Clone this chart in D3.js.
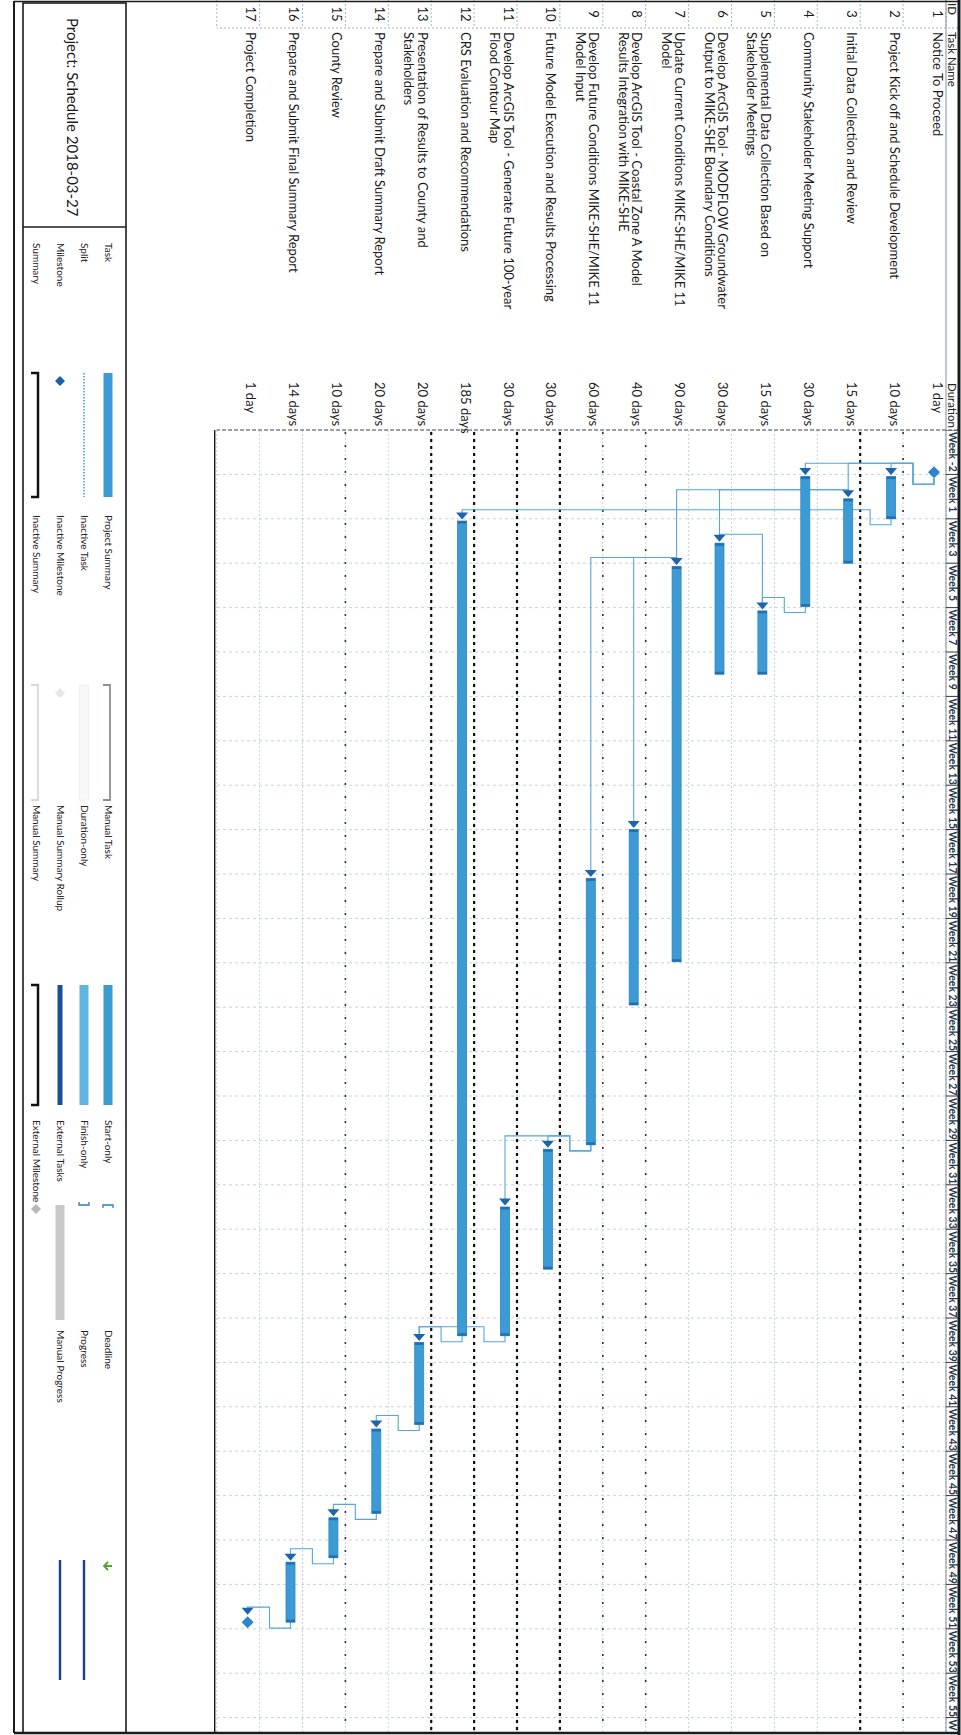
<!DOCTYPE html>
<html>
<head>
<meta charset="utf-8">
<script src="https://cdn.jsdelivr.net/npm/d3@7"></script>
<style>
  body { margin: 0; background: #fff; }
  svg { display: block; }
  text { font-family: Lato, "Open Sans", sans-serif; }
</style>
</head>
<body>
<div id="chart"></div>
<script>
const taskIds = [1, 2, 3, 4, 5, 6, 7, 8, 9, 10, 11, 12, 13, 14, 15, 16, 17];
const taskNames = [
    ["Notice To Proceed"],
    ["Project Kick off and Schedule Development"],
    ["Initial Data Collection and Review"],
    ["Community Stakeholder Meeting Support"],
    ["Supplemental Data Collection Based on", "Stakeholder Meetings"],
    ["Develop ArcGIS Tool - MODFLOW Groundwater", "Output to MIKE-SHE Boundary Conditions"],
    ["Update Current Conditions MIKE-SHE/MIKE 11", "Model"],
    ["Develop ArcGIS Tool - Coastal Zone A Model", "Results Integration with MIKE-SHE"],
    ["Develop Future Conditions MIKE-SHE/MIKE 11", "Model Input"],
    ["Future Model Execution and Results Processing"],
    ["Develop ArcGIS Tool - Generate Future 100-year", "Flood Contour Map"],
    ["CRS Evaluation and Recommendations"],
    ["Presentation of Results to County and", "Stakeholders"],
    ["Prepare and Submit Draft Summary Report"],
    ["County Review"],
    ["Prepare and Submit Final Summary Report"],
    ["Project Completion"]
];
const durations = ["1 day", "10 days", "15 days", "30 days", "15 days", "30 days", "90 days", "40 days",
    "60 days", "30 days", "30 days", "185 days", "20 days", "20 days", "10 days", "14 days", "1 day"];
const startWeek = [-0.1, 0.1, 1.1, 0.1, 6.15, 3.1, 4.15, 16.0, 18.2, 30.4, 33.0, 2.1, 39.1, 43.0, 47.0, 49.0, 51.7];
const finishWeek = [-0.1, 2.0, 4.0, 5.95, 9.0, 9.0, 21.95, 23.9, 30.2, 35.8, 38.8, 38.8, 42.8, 46.8, 48.8, 51.7, 51.7];
const isMilestone = [true, false, false, false, false, false, false, false, false, false, false, false, false, false, false, false, true];

const linksFS = [[1, 2], [1, 3], [1, 4], [2, 12], [4, 5], [9, 10], [9, 11], [11, 13], [12, 13], [13, 14], [14, 15], [15, 16], [16, 17]];
const linksSS = [[3, 6], [3, 7], [7, 8], [7, 9], [6, 5]];

const weekTicks = [-2, 0, 2, 4, 6, 8, 10, 12, 14, 16, 18, 20, 22, 24, 26, 28, 30, 32, 34, 36, 38, 40, 42, 44, 46, 48, 50, 52, 54, 56];
const weekLabels = ["Week -2", "Week 1", "Week 3", "Week 5", "Week 7", "Week 9", "Week 11", "Week 13", "Week 15",
    "Week 17", "Week 19", "Week 21", "Week 23", "Week 25", "Week 27", "Week 29", "Week 31", "Week 33", "Week 35",
    "Week 37", "Week 39", "Week 41", "Week 43", "Week 45", "Week 47", "Week 49", "Week 51", "Week 53", "Week 55", "W"];

const heavyGridRows = [3, 10, 11, 12, 13];
const sparseGridRows = [2, 8, 9, 15];

const projectTitle = "Project: Schedule 2018-03-27";
const legendColumns = [
    ["Task", "Split", "Milestone", "Summary"],
    ["Project Summary", "Inactive Task", "Inactive Milestone", "Inactive Summary"],
    ["Manual Task", "Duration-only", "Manual Summary Rollup", "Manual Summary"],
    ["Start-only", "Finish-only", "External Tasks", "External Milestone"],
    ["Deadline", "Progress", "Manual Progress"]
];
const legendSymbols = [
    ["bar", "split", "diamond", "bracket"],
    ["graybracket", "inactivebar", "inactivediamond", "inactivebracket"],
    ["manualbar", "durationbar", "rollup", "bracket"],
    ["startonly", "finishonly", "externalbar", "externaldiamond"],
    ["deadline", "progress", "progress"]
];

function drawSchedule() {
    const W = 961, H = 1735;
    const svg = d3.select("#chart").append("svg").attr("width", W).attr("height", H);
    // the printed page is rotated a quarter turn: draw it upright, then turn it
    const page = svg.append("g").attr("transform", `translate(${W},0) rotate(90)`);

    const chartLeft = 430, pageRight = 1733;
    const x = d3.scaleLinear().domain([-2, 56]).range([chartLeft, 1717.6]);
    const row = d3.scaleBand().domain(taskIds).range([15, 15 + 17 * 42.9]);
    const tableBottom = row.range()[1];
    const barY = id => row(id) + 12;
    const idx = id => id - 1;

    page.append("clipPath").attr("id", "chartClip")
        .append("rect").attr("x", chartLeft).attr("y", 0).attr("width", pageRight - chartLeft).attr("height", 960);

    // grid
    const grid = page.append("g");
    const rowLines = taskIds.concat([18]);
    const rowLineY = d => d === 18 ? tableBottom : row(d);
    grid.selectAll(".wk").data(weekTicks).join("line")
        .attr("x1", d => x(d)).attr("x2", d => x(d)).attr("y1", 15).attr("y2", tableBottom)
        .attr("stroke", "#c6d2df").attr("stroke-dasharray", "3,3");
    grid.selectAll(".rw").data(rowLines).join("line")
        .attr("x1", chartLeft).attr("x2", pageRight).attr("y1", rowLineY).attr("y2", rowLineY)
        .attr("stroke", "#c9d2dc").attr("stroke-dasharray", "2,2");
    grid.selectAll(".idc").data(rowLines).join("line")
        .attr("x1", 0).attr("x2", 28).attr("y1", rowLineY).attr("y2", rowLineY)
        .attr("stroke", "#a9b4c2").attr("stroke-dasharray", "2,2");
    grid.selectAll(".hv").data(heavyGridRows).join("line")
        .attr("x1", chartLeft + 2).attr("x2", pageRight).attr("y1", d => row(d)).attr("y2", d => row(d))
        .attr("stroke", "#111").attr("stroke-width", 2.2).attr("stroke-dasharray", "3,4");
    grid.selectAll(".sp").data(sparseGridRows).join("line")
        .attr("x1", chartLeft + 2).attr("x2", pageRight).attr("y1", d => row(d)).attr("y2", d => row(d))
        .attr("stroke", "#333").attr("stroke-width", 1.6).attr("stroke-dasharray", "2,11");

    // table column lines
    page.append("line").attr("x1", 28).attr("x2", 28).attr("y1", 3).attr("y2", tableBottom)
        .attr("stroke", "#a3b0bf").attr("stroke-dasharray", "2,2");
    page.append("line").attr("x1", chartLeft).attr("x2", chartLeft).attr("y1", 3).attr("y2", tableBottom)
        .attr("stroke", "#556").attr("stroke-width", 1.2).attr("stroke-dasharray", "4,2");
    page.append("line").attr("x1", 0).attr("x2", pageRight).attr("y1", 15).attr("y2", 15)
        .attr("stroke", "#7f8ea0");

    // header
    const head = page.append("g").attr("font-size", 11.5).attr("fill", "#222");
    head.append("text").attr("x", 3).attr("y", 13).text("ID");
    head.append("text").attr("x", 32).attr("y", 13).text("Task Name");
    head.append("text").attr("x", 383).attr("y", 13).text("Duration");

    const scale = page.append("g").attr("clip-path", "url(#chartClip)");
    scale.selectAll("text").data(weekTicks).join("text")
        .attr("x", d => x(d) + 2).attr("y", 12.5)
        .attr("font-size", 10.5).attr("font-weight", 700).attr("fill", "#27374f")
        .text((d, i) => weekLabels[i]);
    scale.selectAll("line").data(weekTicks).join("line")
        .attr("x1", d => x(d)).attr("x2", d => x(d)).attr("y1", 3).attr("y2", 15)
        .attr("stroke", "#333");

    // table rows
    const rows = page.append("g").attr("font-size", 13).attr("fill", "#1a1a1a");
    rows.selectAll(".id").data(taskIds).join("text")
        .attr("x", 14).attr("y", d => barY(d) + 1.5).attr("text-anchor", "middle").text(d => d);
    taskIds.forEach(id => {
        rows.append("text").attr("x", 32).attr("y", barY(id) + 1.5)
            .selectAll("tspan").data(taskNames[idx(id)]).join("tspan")
            .attr("x", 32).attr("dy", (d, i) => i === 0 ? 0 : 13.5).text(d => d);
        rows.append("text").attr("x", 382).attr("y", barY(id) + 1.5).text(durations[idx(id)]);
    });

    // links
    const barBlue = "#3c9bd5", darkBlue = "#1e64ad", linkBlue = "#56a6da";
    const startX = id => x(startWeek[idx(id)]) - (isMilestone[idx(id)] ? 6 : 0);
    const links = page.append("g").attr("fill", "none").attr("stroke", linkBlue).attr("stroke-width", 1.1);
    linksFS.forEach(([p, s]) => {
        const fin = x(finishWeek[idx(p)]);
        const uf = fin + (isMilestone[idx(p)] ? 6 : 0);
        const vp = barY(p), vs = barY(s), us = startX(s);
        const uv = Math.min(us, fin) - 9;
        const vb = vp + 21 * Math.sign(vs - vp);
        links.append("path").attr("d", `M${uf},${vp}H${uf + 6}V${vb}H${uv}V${vs}H${us - 7}`);
    });
    linksSS.forEach(([p, s]) => {
        const uv = startX(p) - 9;
        const vp = barY(p), vs = barY(s), us = startX(s);
        links.append("path").attr("d", `M${startX(p) - 7},${vp}H${uv}V${vs}H${us - 7}`);
    });

    // arrowheads into every task that has a predecessor
    const targets = Array.from(new Set(linksFS.concat(linksSS).map(l => l[1])));
    page.append("g").selectAll("path").data(targets).join("path")
        .attr("d", d => { const u = startX(d) - 1.5, v = barY(d); return `M${u - 7},${v - 6}L${u - 7},${v + 6}L${u},${v}Z`; })
        .attr("fill", darkBlue);

    // bars
    const bars = page.append("g");
    const taskRows = taskIds.filter(id => !isMilestone[idx(id)]);
    bars.selectAll("rect.bar").data(taskRows).join("rect").attr("class", "bar")
        .attr("x", d => x(startWeek[idx(d)])).attr("y", d => barY(d) - 4.5)
        .attr("width", d => x(finishWeek[idx(d)]) - x(startWeek[idx(d)])).attr("height", 9)
        .attr("fill", barBlue).attr("stroke", "#2c86c4").attr("stroke-width", 0.8);
    bars.selectAll("rect.cs").data(taskRows).join("rect").attr("class", "cs")
        .attr("x", d => x(startWeek[idx(d)])).attr("y", d => barY(d) - 4.5)
        .attr("width", 2.5).attr("height", 9).attr("fill", "#2270b2");
    bars.selectAll("rect.ce").data(taskRows).join("rect").attr("class", "ce")
        .attr("x", d => x(finishWeek[idx(d)]) - 2.5).attr("y", d => barY(d) - 4.5)
        .attr("width", 2.5).attr("height", 9).attr("fill", "#2270b2");
    bars.selectAll("path.ms").data(taskIds.filter(id => isMilestone[idx(id)])).join("path").attr("class", "ms")
        .attr("d", d => { const u = x(finishWeek[idx(d)]), v = barY(d); return `M${u - 6},${v}L${u},${v - 6}L${u + 6},${v}L${u},${v + 6}Z`; })
        .attr("fill", "#2a84d0");

    // frame
    const frame = page.append("g").attr("fill", "none").attr("stroke", "#1b1b1b");
    frame.append("line").attr("x1", 0).attr("x2", H).attr("y1", 2).attr("y2", 2).attr("stroke-width", 3);
    frame.append("line").attr("x1", 1).attr("x2", pageRight).attr("y1", 947).attr("y2", 947).attr("stroke-width", 2);
    frame.append("line").attr("x1", pageRight).attr("x2", pageRight).attr("y1", 2).attr("y2", 947).attr("stroke-width", 2.5);
    frame.append("line").attr("x1", 1.5).attr("x2", 1.5).attr("y1", 2).attr("y2", 947).attr("stroke-width", 1.5);
    frame.append("line").attr("x1", chartLeft).attr("x2", pageRight).attr("y1", tableBottom + 2).attr("y2", tableBottom + 2).attr("stroke-width", 1.4);
    frame.append("rect").attr("x", 3).attr("y", 835).attr("width", pageRight - 3).attr("height", 103).attr("stroke-width", 1.6);
    frame.append("line").attr("x1", 227).attr("x2", 227).attr("y1", 835).attr("y2", 938).attr("stroke-width", 1.4);

    // legend
    page.append("text").attr("x", 18).attr("y", 894).attr("font-size", 15).attr("fill", "#1a1a1a").text(projectTitle);
    const legendLabelX = [243, 515, 805, 1120, 1330];
    const legendSymX = [[373, 497], [685, 800], [985, 1105], [1205, 1320], [1560, 1680]];
    const legendRowY = [853, 877, 901, 925];
    const legend = page.append("g");
    legendColumns.forEach((col, c) => col.forEach((label, r) => {
        legend.append("text").attr("x", legendLabelX[c]).attr("y", legendRowY[r] + 3.5)
            .attr("font-size", 10).attr("fill", "#222")
            .attr("font-family", "'Liberation Sans Narrow', 'Noto Sans', sans-serif").text(label);
        drawSymbol(legend, legendSymbols[c][r], legendSymX[c][0], legendSymX[c][1], legendRowY[r]);
    }));
}

function drawSymbol(g, kind, u0, u1, v) {
    const diamond = (u, fill) => g.append("path").attr("d", `M${u - 5},${v}L${u},${v - 5}L${u + 5},${v}L${u},${v + 5}Z`).attr("fill", fill);
    const bracket = (stroke, w) => g.append("path")
        .attr("d", `M${u0},${v + 5}V${v - 2}H${u1}V${v + 5}`).attr("fill", "none").attr("stroke", stroke).attr("stroke-width", w);
    if (kind === "bar") g.append("rect").attr("x", u0).attr("y", v - 4.5).attr("width", u1 - u0).attr("height", 9).attr("fill", "#3c9bd5");
    if (kind === "split") g.append("line").attr("x1", u0).attr("x2", u1).attr("y1", v).attr("y2", v)
        .attr("stroke", "#3c9bd5").attr("stroke-width", 1.5).attr("stroke-dasharray", "1.5,1.5");
    if (kind === "diamond") diamond(u0 + 8, "#1e5fa5");
    if (kind === "bracket") bracket("#111", 2.5);
    if (kind === "graybracket") bracket("#8a8f96", 1.8);
    if (kind === "inactivebar") g.append("rect").attr("x", u0).attr("y", v - 4.5).attr("width", u1 - u0).attr("height", 9)
        .attr("fill", "#f6f8fa").attr("stroke", "#eef1f4");
    if (kind === "inactivediamond") diamond(u0 + 8, "#e4e6e8");
    if (kind === "inactivebracket") bracket("#d6d8da", 1.8);
    if (kind === "manualbar") g.append("rect").attr("x", u0).attr("y", v - 4.5).attr("width", u1 - u0).attr("height", 9).attr("fill", "#3a9bd2");
    if (kind === "durationbar") g.append("rect").attr("x", u0).attr("y", v - 4.5).attr("width", u1 - u0).attr("height", 9).attr("fill", "#5fb4e0");
    if (kind === "rollup") g.append("rect").attr("x", u0).attr("y", v - 2.5).attr("width", u1 - u0).attr("height", 5).attr("fill", "#1b4f98");
    if (kind === "startonly") g.append("path").attr("d", `M${u0 + 3},${v - 5}H${u0}V${v + 5}H${u0 + 3}`)
        .attr("fill", "none").attr("stroke", "#2a7fbf").attr("stroke-width", 1.3);
    if (kind === "finishonly") g.append("path").attr("d", `M${u0 - 3},${v - 5}H${u0}V${v + 5}H${u0 - 3}`)
        .attr("fill", "none").attr("stroke", "#2a7fbf").attr("stroke-width", 1.3);
    if (kind === "externalbar") g.append("rect").attr("x", u0).attr("y", v - 4.5).attr("width", u1 - u0).attr("height", 9).attr("fill", "#c9c9c9");
    if (kind === "externaldiamond") diamond(u0 + 4, "#b8b8b8");
    if (kind === "deadline") g.append("path").attr("d", `M${u0 + 6},${v - 4}V${v + 3}M${u0 + 2},${v}L${u0 + 6},${v + 4}L${u0 + 10},${v}`)
        .attr("fill", "none").attr("stroke", "#56a030").attr("stroke-width", 1.8);
    if (kind === "progress") g.append("line").attr("x1", u0).attr("x2", u1).attr("y1", v).attr("y2", v)
        .attr("stroke", "#1d3f8f").attr("stroke-width", 2.4);
}

drawSchedule();
</script>
</body>
</html>
